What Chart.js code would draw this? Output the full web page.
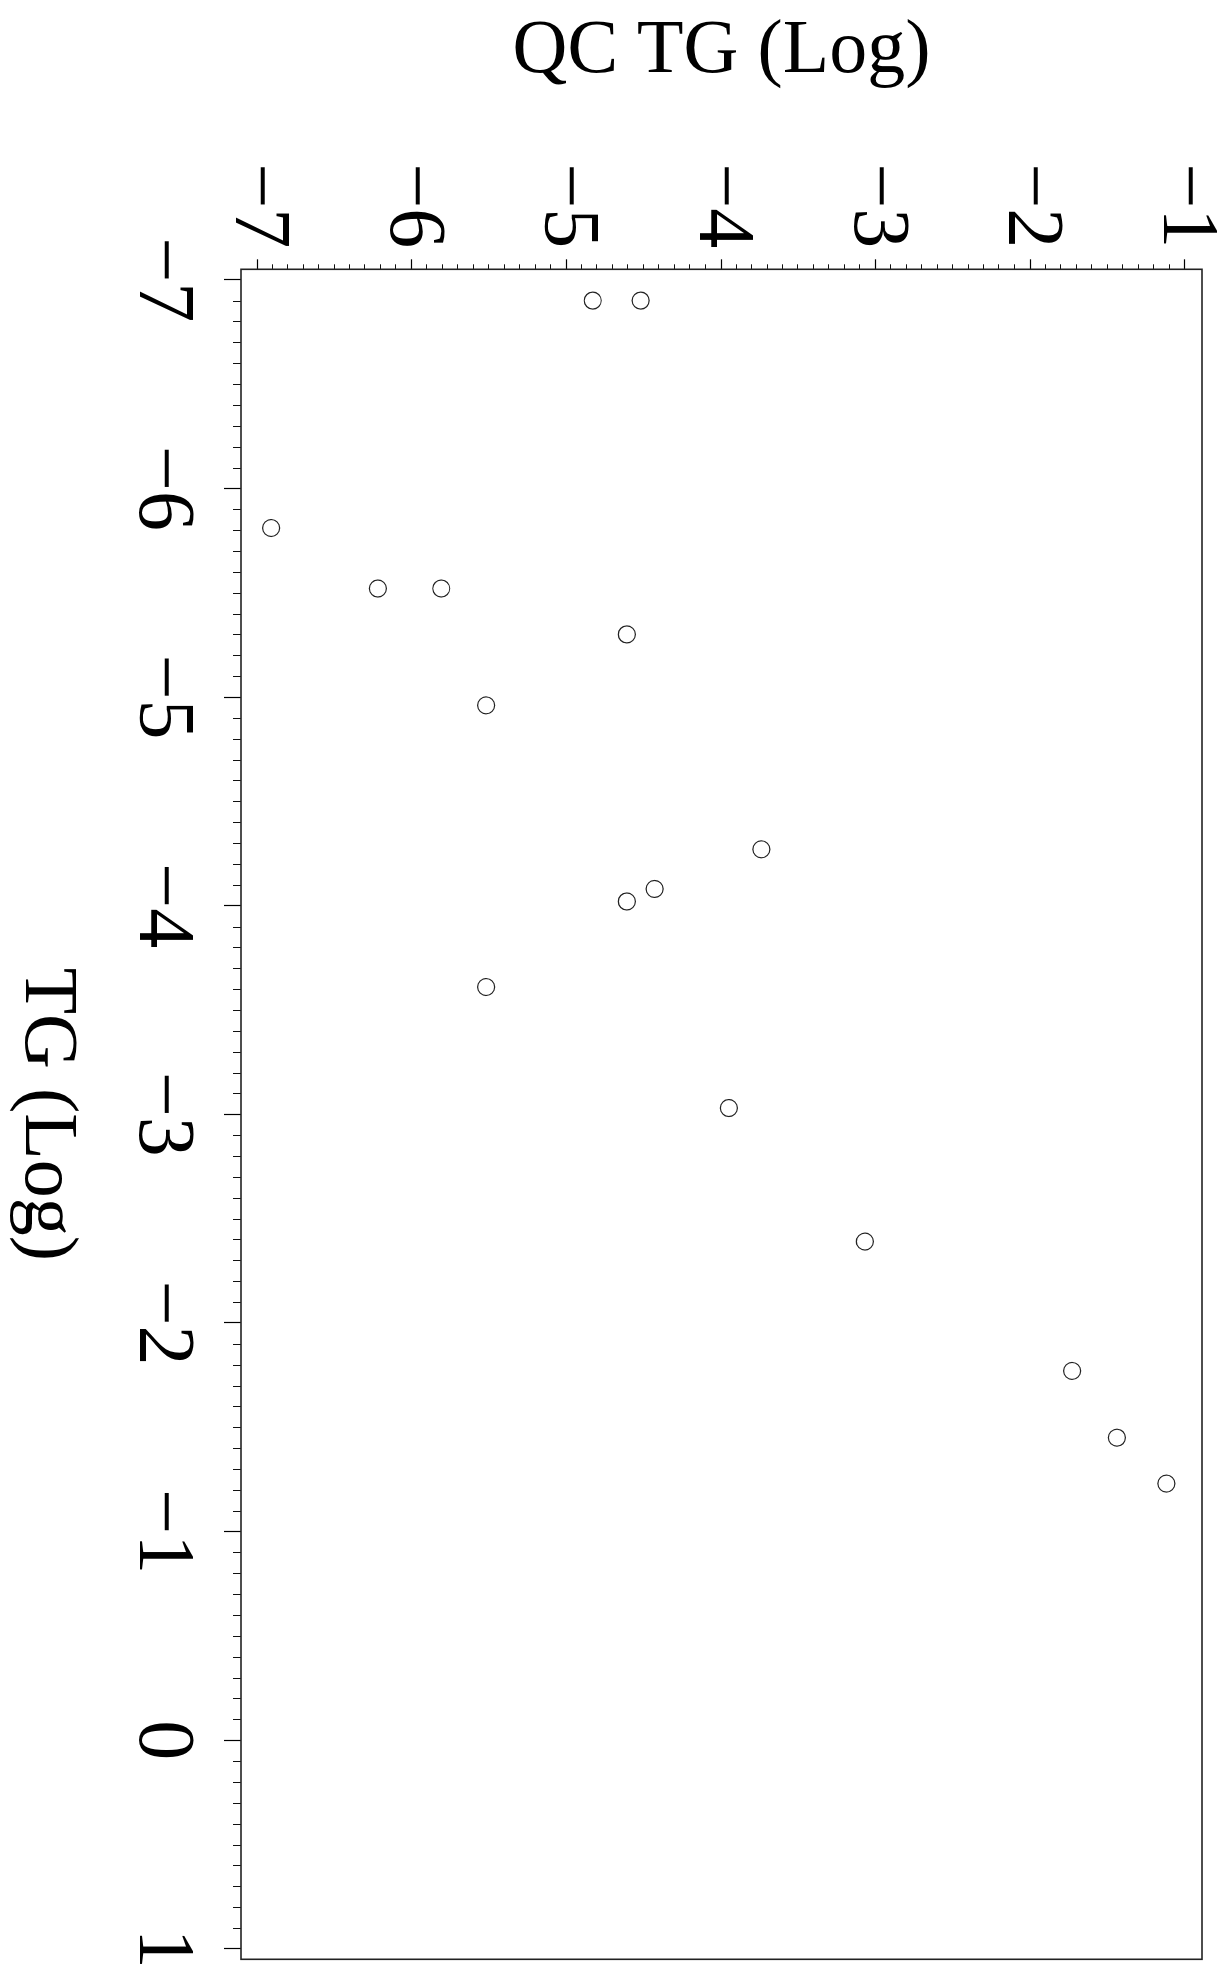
<!DOCTYPE html>
<html>
<head>
<meta charset="utf-8">
<script src="https://cdn.jsdelivr.net/npm/chart.js@4.4.1/dist/chart.umd.min.js"></script>
<style>
  html, body { margin: 0; padding: 0; background: #fff; overflow: hidden; }
  /* chart is drawn landscape, then turned a quarter clockwise like the original */
  #wrap {
    position: absolute; left: 0; top: 0;
    width: 1988px; height: 1220px;
    transform-origin: 0 0;
    transform: translateX(1220px) rotate(90deg);
  }
</style>
</head>
<body>
<div id="wrap"><canvas id="scatter" width="1988" height="1220"></canvas></div>
<script>
// TG (log) on x, QC TG (log) on y
const tgLog = [-6.9, -6.9, -5.81, -5.52, -5.52, -5.3, -4.96, -4.27, -4.08, -4.02, -3.61, -3.03, -2.39, -1.77, -1.45, -1.23];
const qcTgLog = [-4.83, -4.52, -6.91, -6.22, -5.81, -4.61, -5.52, -3.74, -4.43, -4.61, -5.52, -3.95, -3.07, -1.73, -1.44, -1.12];

const xTicks = [-7, -6, -5, -4, -3, -2, -1, 0, 1];
const yTicks = [-7, -6, -5, -4, -3, -2, -1];

const FONT = "'Liberation Serif', 'DejaVu Serif', serif";

function fmt(v) {
    return v < 0 ? '\u2212' + Math.abs(v) : String(v);
}

// frame box + small ticks (10 per unit)
const frameAndMinor = {
    id: 'frameAndMinor',
    afterDraw(chart) {
        const ctx = chart.ctx;
        const a = chart.chartArea;
        const xs = chart.scales.x, ys = chart.scales.y;
        ctx.save();
        ctx.strokeStyle = '#111';
        ctx.lineWidth = 1;
        for (let i = 0; i < xTicks.length - 1; i++) {
            for (let k = 1; k < 10; k++) {
                const px = Math.round(xs.getPixelForValue(xTicks[i] + k / 10)) + 0.5;
                ctx.beginPath();
                ctx.moveTo(px, a.bottom);
                ctx.lineTo(px, a.bottom + 8);
                ctx.stroke();
            }
        }
        for (let i = 0; i < yTicks.length - 1; i++) {
            for (let k = 1; k < 10; k++) {
                const py = Math.round(ys.getPixelForValue(yTicks[i] + k / 10)) + 0.5;
                ctx.beginPath();
                ctx.moveTo(a.left, py);
                ctx.lineTo(a.left - 5, py);
                ctx.stroke();
            }
        }
        ctx.strokeStyle = '#222';
        ctx.lineWidth = 1.6;
        ctx.strokeRect(a.left, a.top, a.right - a.left, a.bottom - a.top);
        ctx.restore();
    }
};

new Chart(document.getElementById('scatter'), {
    type: 'scatter',
    data: {
        datasets: [{
            data: tgLog.map((x, i) => ({ x: x, y: qcTgLog[i] })),
            pointRadius: 8.5,
            pointHoverRadius: 8.5,
            pointBorderWidth: 1.2,
            pointBorderColor: '#222',
            pointBackgroundColor: 'rgba(0,0,0,0)'
        }]
    },
    options: {
        responsive: false,
        animation: false,
        devicePixelRatio: 1,
        layout: { padding: { top: 18, right: 28.7, left: 0, bottom: 0 } },
        plugins: { legend: { display: false }, tooltip: { enabled: false } },
        scales: {
            x: {
                type: 'linear',
                min: -7.05,
                max: 1.05,
                afterBuildTicks: s => { s.ticks = xTicks.map(v => ({ value: v })); },
                afterFit: s => {
                    s.height = 241;
                    s.paddingLeft = 0; s.paddingRight = 0;
                },
                grid: { drawOnChartArea: false, tickLength: 17, tickColor: '#000', tickWidth: 1.2 },
                border: { display: false },
                ticks: {
                    autoSkip: false, maxRotation: 0, padding: 15, color: '#000',
                    font: { family: FONT, size: 80 },
                    callback: v => fmt(v)
                },
                title: {
                    display: true, text: 'TG (Log)', color: '#000',
                    font: { family: FONT, size: 76, lineHeight: 1.2 },
                    padding: { top: 0, bottom: 0 }
                }
            },
            y: {
                type: 'linear',
                min: -7.105,
                max: -0.89,
                afterBuildTicks: s => { s.ticks = yTicks.map(v => ({ value: v })); },
                afterFit: s => {
                    s.width = 269.3;
                    s.paddingTop = 0; s.paddingBottom = 0;
                },
                grid: { drawOnChartArea: false, tickLength: 10, tickColor: '#000', tickWidth: 1.2 },
                border: { display: false },
                ticks: {
                    autoSkip: false, padding: 11, color: '#000',
                    font: { family: FONT, size: 80 },
                    callback: v => fmt(v)
                },
                title: {
                    display: true, text: 'QC TG (Log)', color: '#000',
                    font: { family: FONT, size: 76, lineHeight: 1.2 },
                    padding: { top: 6, bottom: 0 }
                }
            }
        }
    },
    plugins: [frameAndMinor]
});
</script>
</body>
</html>
